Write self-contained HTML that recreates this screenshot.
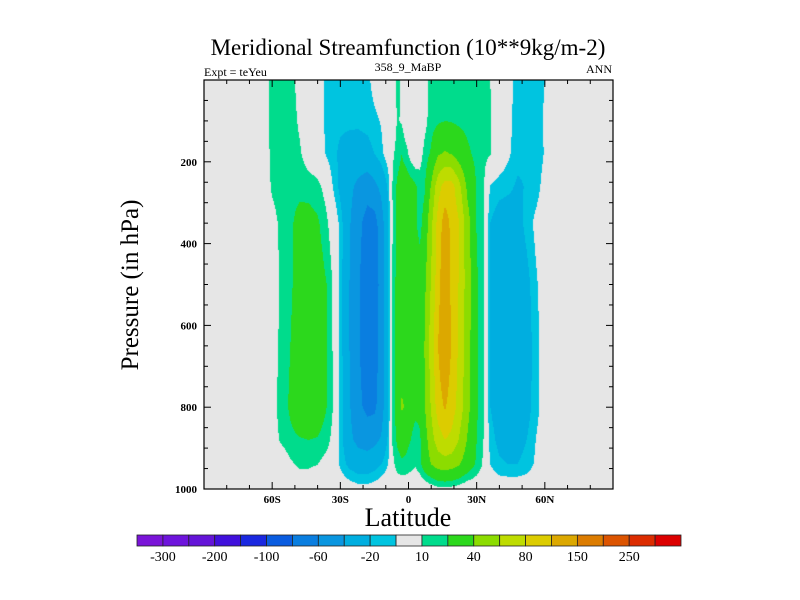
<!DOCTYPE html>
<html><head><meta charset="utf-8"><style>
html,body{margin:0;padding:0;background:#fff;}
#wrap{position:relative;width:800px;height:600px;overflow:hidden;font-family:"Liberation Serif",serif;}
canvas{position:absolute;left:204px;top:80px;}
svg{position:absolute;left:0;top:0;}
</style></head><body>
<div id="wrap">
<canvas id="cv" width="409" height="409"></canvas>
<svg id="sv" width="800" height="600"></svg>
</div>
<script>
const lats = [-90,-64,-60,-56,-52,-48,-44,-40,-36,-33,-30,-26,-22,-18,-15,-12,-9,-7,-5,-3,-1,1,3,5,7,10,13,16,19,22,26,30,33,36,40,44,48,52,56,60,64,90];
const pressures = [0,100,180,260,350,500,650,800,880,940,1000];
const row0   = [0,0,15,16,15,5,0,0,-14,-15,-14,-15,-16,-13,-5,0,0,0,13,8,0,0,0,0,5,14,16,17,17,17,16,16,15,10,0,-5,-15,-16,-16,-10,0,0];
const row100 = [0,0,15,17,16,8,0,0,-14,-17,-18,-18,-18,-16,-13,-9,0,0,11,9,0,0,0,0,6,15,18,20,19,18,17,16,15,11,0,-6,-16,-17,-17,-8,0,0];
const row180 = [0,0,14,17,16,12,3,0,-12,-18,-22,-25,-26,-25,-20,-13,-3,8,14,20,14,5,0,5,13,22,38,42,39,30,22,17,14,11,0,-8,-16,-18,-17,-9,0,0];
const row260 = [0,0,12,16,17,17,16,13,5,-12,-24,-35,-45,-52,-45,-35,-18,11,22,27,28,26,22,15,18,42,72,88,88,68,35,19,12,-11,-15,-17,-22,-19,-15,-5,0,0];
const row350 = [0,0,5,13,18,24,25,22,12,2,-14,-38,-55,-68,-68,-50,-22,10,22,27,28,26,22,16,25,55,88,110,95,82,48,19,11,-20,-28,-30,-26,-16,-7,-2,0,0];
const row500 = [0,0,3,12,18,26,30,28,20,8,-14,-40,-58,-72,-72,-52,-22,12,25,30,32,30,28,27,35,62,92,118,95,80,50,22,12,-22,-30,-32,-32,-25,-12,-3,0,0];
const row650 = [0,0,4,13,20,28,32,30,21,8,-14,-40,-58,-72,-70,-52,-22,12,25,32,33,30,30,30,40,70,100,122,98,78,48,22,12,-22,-30,-33,-33,-28,-14,-4,0,0];
const row800 = [0,0,6,14,22,30,32,30,20,9,-13,-38,-56,-65,-64,-50,-22,12,28,42,38,28,24,24,38,62,90,102,90,74,46,22,12,-20,-28,-32,-32,-26,-14,-4,0,0];
const row880 = [0,0,4,12,17,19,20,19,14,6,-14,-36,-45,-48,-45,-38,-18,12,22,26,24,20,14,18,30,52,70,80,75,60,38,20,10,-15,-24,-26,-25,-20,-10,-2,0,0];
const row940 = [0,0,0,0,8,12,12,10,5,0,-12,-24,-30,-30,-26,-20,-10,6,15,18,17,14,11,16,28,40,48,50,48,42,30,18,8,-10,-18,-20,-20,-16,-8,0,0,0];
const row1000= [0,0,0,0,0,0,0,0,0,0,0,-2,-5,-5,-3,0,0,0,0,0,0,0,0,0,0,3,6,7,6,4,0,0,0,0,0,0,0,0,0,0,0,0];
const field = [row0,row100,row180,row260,row350,row500,row650,row800,row880,row940,row1000];
const levels = [-300,-250,-200,-150,-100,-80,-60,-40,-20,-10,10,20,40,60,80,100,150,200,250,300];
const levelLabels = ["-300","-200","-100","-60","-20","10","40","80","150","250"];
const colors = ["#7a14d8","#6e14dc","#6414d8","#4010dc","#1a28e0","#0a5ce0","#0a7ee0","#0a96e0","#00aee0","#00c4e0","#e6e6e6","#00dc8c","#2cd81c","#8cdc00","#bedc00","#dccc00","#dca800","#dc7c00","#dc5400","#dc2c00","#dc0000"];
const latTicks = [-60,-30,0,30,60];
const latLabels = ["60S","30S","0","30N","60N"];
const pTicks = [200,400,600,800,1000];

const X0=204,X1=613,Y0=80,Y1=489;
const xs = lat => X0+(lat+90)/180*(X1-X0);
const ys = p => Y0+p/1000*(Y1-Y0);
function hex(c){return [parseInt(c.slice(1,3),16),parseInt(c.slice(3,5),16),parseInt(c.slice(5,7),16)];}
const rgb = colors.map(hex);
function band(v){let i=0;while(i<levels.length&&v>=levels[i])i++;return i;}
function idx(arr,v){for(let i=0;i<arr.length-1;i++){if(v<=arr[i+1])return i;}return arr.length-2;}
function val(lat,p){
  const i=idx(lats,lat),j=idx(pressures,p);
  const tx=(lat-lats[i])/(lats[i+1]-lats[i]),ty=(p-pressures[j])/(pressures[j+1]-pressures[j]);
  const a=field[j][i],b=field[j][i+1],c=field[j+1][i],d=field[j+1][i+1];
  return (a*(1-tx)+b*tx)*(1-ty)+(c*(1-tx)+d*tx)*ty;
}
const cv=document.getElementById('cv');const ctx=cv.getContext('2d');
const W=cv.width,H=cv.height;const img=ctx.createImageData(W,H);
for(let py=0;py<H;py++){for(let px=0;px<W;px++){
  const lat=(px+0.5)/(X1-X0)*180-90,p=(py+0.5)/(Y1-Y0)*1000;
  const c=rgb[band(val(lat,p))];const k=(py*W+px)*4;
  img.data[k]=c[0];img.data[k+1]=c[1];img.data[k+2]=c[2];img.data[k+3]=255;}}
ctx.putImageData(img,0,0);

const NS="http://www.w3.org/2000/svg";const sv=document.getElementById('sv');
function el(t,a,txt){const e=document.createElementNS(NS,t);for(const k in a)e.setAttribute(k,a[k]);if(txt!==undefined)e.textContent=txt;sv.appendChild(e);return e;}
let e;
e=el('rect',{x:X0,y:Y0,width:X1-X0,height:Y1-Y0,fill:'none',stroke:'#000','stroke-width':1.2});


for(let l=-80;l<=80;l+=10){const maj=latTicks.includes(l);const L=maj?7:4;const x=xs(l);
  e=el('line',{x1:x,x2:x,y1:Y1,y2:Y1-L,stroke:'#000'});
  
  
  e=el('line',{x1:x,x2:x,y1:Y0,y2:Y0+L,stroke:'#000'});
  
  }
latTicks.forEach((l,i)=>{e=el('text',{x:xs(l),y:503,'text-anchor':'middle','font-size':11,'font-weight':'bold','font-family':'Liberation Serif, serif'},latLabels[i]);
  
  });
for(let p=50;p<1000;p+=50){const maj=pTicks.includes(p);const L=maj?7:4;const y=ys(p);
  e=el('line',{x1:X0,x2:X0+L,y1:y,y2:y,stroke:'#000'});
  
  
  e=el('line',{x1:X1,x2:X1-L,y1:y,y2:y,stroke:'#000'});
  
  }
pTicks.forEach(p=>{e=el('text',{x:197,y:ys(p)+4,'text-anchor':'end','font-size':11,'font-weight':'bold','font-family':'Liberation Serif, serif'},String(p));
  
  });
// colorbar
const CB0=137,CB1=681,CBY=535,CBH=11;const bw=(CB1-CB0)/colors.length;
colors.forEach((c,i)=>{e=el('rect',{x:CB0+i*bw,y:CBY,width:bw,height:CBH,fill:c,stroke:'#222','stroke-width':0.8});
  
  });
levelLabels.forEach((t,i)=>{e=el('text',{x:CB0+(2*i+1)*bw,y:561,'text-anchor':'middle','font-size':14,'font-family':'Liberation Serif, serif'},t);
  
  });
</script>
<svg width="800" height="600" style="position:absolute;left:0;top:0;pointer-events:none">
<text x="408" y="55" text-anchor="middle" font-size="23" font-family="Liberation Serif, serif">Meridional Streamfunction (10**9kg/m-2)</text>
<text x="204" y="76" font-size="12" font-family="Liberation Serif, serif">Expt = teYeu</text>
<text x="408" y="71" text-anchor="middle" font-size="12" font-family="Liberation Serif, serif">358_9_MaBP</text>
<text x="612" y="73" text-anchor="end" font-size="12" font-family="Liberation Serif, serif">ANN</text>
<text x="0" y="0" transform="translate(138,285) rotate(-90)" text-anchor="middle" font-size="25" font-family="Liberation Serif, serif">Pressure (in hPa)</text>
<text x="408" y="526" text-anchor="middle" font-size="26" font-family="Liberation Serif, serif">Latitude</text>
</svg>
</body></html>
